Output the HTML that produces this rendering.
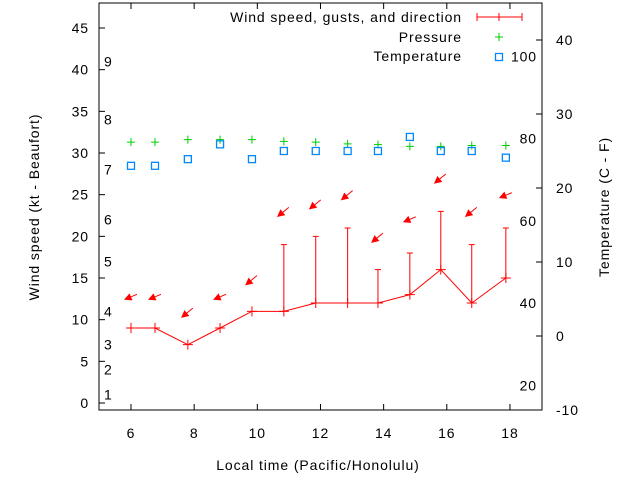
<!DOCTYPE html>
<html><head><meta charset="utf-8"><style>
body{margin:0;background:#fff}
svg{display:block;font-family:"Liberation Sans",sans-serif;font-size:14px;letter-spacing:0.9px}
</style></head><body>
<svg id="chart" width="640" height="480" viewBox="0 0 640 480">
<rect x="0" y="0" width="640" height="480" fill="#fff"/>
<g id="axes"></g><g id="marks"></g>
<text x="318" y="470" text-anchor="middle">Local time (Pacific/Honolulu)</text>
<text transform="translate(39,207) rotate(-90)" text-anchor="middle">Wind speed (kt - Beaufort)</text>
<text transform="translate(609,207) rotate(-90)" text-anchor="middle">Temperature (C - F)</text>
<g>
<text x="462" y="22" text-anchor="end">Wind speed, gusts, and direction</text>
<line x1="477" y1="17" x2="522" y2="17" stroke="red"/><line x1="477" y1="13" x2="477" y2="21" stroke="red"/><line x1="522" y1="13" x2="522" y2="21" stroke="red"/><line x1="499" y1="13" x2="499" y2="21" stroke="red"/>
<text x="462" y="42" text-anchor="end">Pressure</text>
<path d="M495 37h8M499 33v8" stroke="#0c0"/>
<text x="462" y="61" text-anchor="end">Temperature</text>
<rect x="495.5" y="53.5" width="7" height="7" fill="none" stroke="#08f" stroke-width="1.3"/>
</g>
</svg>
<script>
const times=[6.0,6.76,7.8,8.82,9.83,10.84,11.85,12.86,13.82,14.83,15.81,16.79,17.87];
const wind=[9,9,7,9,11,11,12,12,12,13,16,12,15];
const gusts=[null,null,null,null,null,19,20,21,16,18,23,19,21];
const dirLevel=[12.8,12.8,10.9,12.8,14.8,23,23.9,25,19.9,22.1,27,23,25];
const dirShallow=[1,1,0,1,0,0,0,0,0,1,0,0,1];
const pressure=[31.3,31.3,31.6,31.6,31.6,31.4,31.3,31.1,31.0,30.8,30.8,30.9,30.9];
const tempC=[23.0,23.0,23.9,25.9,23.9,25.0,25.0,25.0,25.0,26.9,25.0,25.0,24.1];
const xTicks=[6,8,10,12,14,16,18];
const yTicks=[0,5,10,15,20,25,30,35,40,45];
const y2Ticks=[-10,0,10,20,30,40];
const beaufort=[[1,1],[2,4],[3,7],[4,11],[5,17],[6,22],[7,28],[8,34],[9,41]];
const fahr=[20,40,60,80,100];
const L=99,R=542,T=3,B=410;
const X=t=>131+(t-6)*31.58;
const Y=v=>403-v*8.333;
const Y2=c=>336-c*7.4;
const NS='http://www.w3.org/2000/svg';
function mk(p,tag,a){const e=document.createElementNS(NS,tag);for(const k in a)e.setAttribute(k,a[k]);p.appendChild(e);return e;}
const ax=document.getElementById('axes'),mg=document.getElementById('marks');
const fr=mk(ax,'rect',{x:L,y:T,width:R-L,height:B-T,fill:'none',stroke:'#000'});


xTicks.forEach(t=>{const x=X(t);
 mk(ax,'path',{d:`M${x} ${B}v-6M${x} ${T}v6`,stroke:'#000'});
 const e=mk(ax,'text',{x:x,y:B+28,'text-anchor':'middle'});e.textContent=t;
 
 });
yTicks.forEach(v=>{const y=Y(v);
 mk(ax,'path',{d:`M${L} ${y}h6`,stroke:'#000'});
 const e=mk(ax,'text',{x:L-10,y:y+5,'text-anchor':'end'});e.textContent=v;
 
 });
y2Ticks.forEach(v=>{const y=Y2(v);
 mk(ax,'path',{d:`M${R} ${y}h-6`,stroke:'#000'});
 const e=mk(ax,'text',{x:R+14,y:y+5});e.textContent=v;
 
 });
beaufort.forEach(b=>{const e=mk(ax,'text',{x:104,y:Y(b[1])+5});e.textContent=b[0];
 
 });
fahr.forEach(f=>{const e=mk(ax,'text',{x:537,y:Y2((f-32)/1.8)+5,'text-anchor':'end'});e.textContent=f;
 
 });
const wl=mk(mg,'polyline',{points:times.map((t,i)=>X(t)+','+Y(wind[i])).join(' '),fill:'none',stroke:'red'});


times.forEach((t,i)=>{const x=X(t),y=Y(wind[i]);
 const p=mk(mg,'path',{d:`M${x-5} ${y}h10M${x} ${y-5}v10`,stroke:'red'});
 
 
 if(gusts[i]!=null){const g=Y(gusts[i]);
  const gp=mk(mg,'path',{d:`M${x} ${y}V${g}M${x-3} ${g}h6`,stroke:'red'});
  
  }
 const ay=Y(dirLevel[i]);
 const s=dirShallow[i];
 const tx=x-6,ty=ay+(s?3:5),sx=x+(s?6:5),sy=ay-(s?2:4);
 const dx=tx-sx,dy=ty-sy,len=Math.hypot(dx,dy),ux=dx/len,uy=dy/len;
 const bx=tx-ux*6,by=ty-uy*6;
 const a=mk(mg,'path',{d:`M${sx} ${sy}L${tx} ${ty}M${tx} ${ty}L${bx-uy*3} ${by+ux*3}L${bx+uy*3} ${by-ux*3}Z`,stroke:'red',fill:'red','stroke-width':1});
 
 
 const py=Y(pressure[i]);
 const pp=mk(mg,'path',{d:`M${x-4} ${py}h8M${x} ${py-4}v8`,stroke:'#0c0'});
 
 
 const ty2=Y2(tempC[i]);
 const tr=mk(mg,'rect',{x:x-3.5,y:ty2-3.5,width:7,height:7,fill:'none',stroke:'#08f','stroke-width':1.3});
 
 
});
</script>
</body></html>
